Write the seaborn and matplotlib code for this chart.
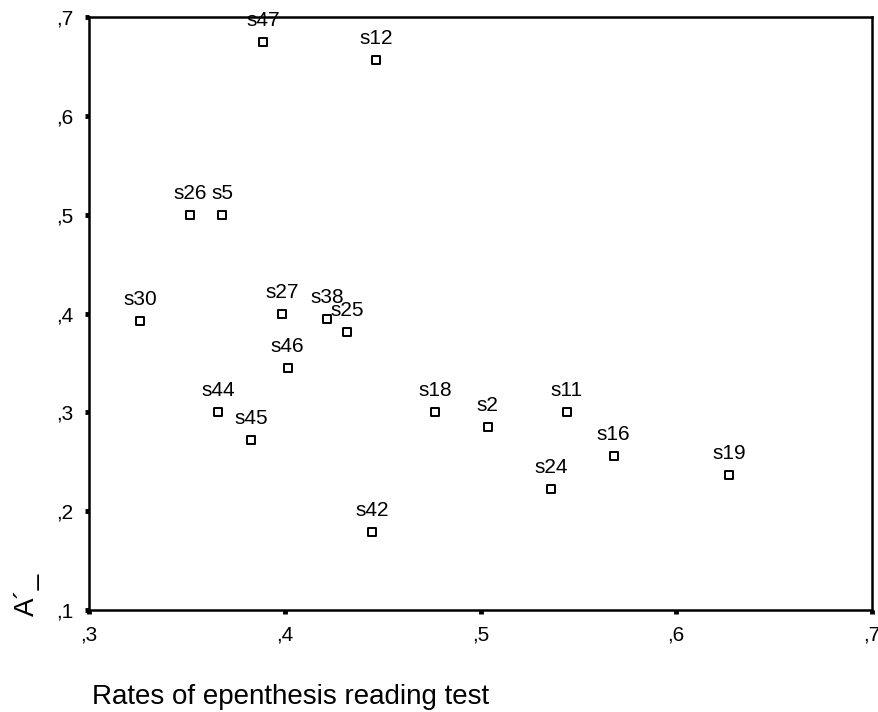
import matplotlib
matplotlib.use("Agg")
import matplotlib.pyplot as plt
import seaborn as sns
import pandas as pd

labels = ["s47", "s12", "s26", "s5", "s30", "s27", "s38", "s25", "s46", "s44",
          "s45", "s42", "s18", "s2", "s11", "s16", "s24", "s19"]
x_vals = [0.389, 0.4465, 0.3515, 0.368, 0.326, 0.3985, 0.4215, 0.432, 0.4015, 0.366,
          0.383, 0.4445, 0.477, 0.5036, 0.544, 0.568, 0.536, 0.627]
y_vals = [0.675, 0.657, 0.500, 0.500, 0.392, 0.400, 0.394, 0.381, 0.345, 0.300,
          0.272, 0.179, 0.300, 0.285, 0.300, 0.2556, 0.222, 0.2365]
x_ticks = [0.3, 0.4, 0.5, 0.6, 0.7]
x_tick_labels = [",3", ",4", ",5", ",6", ",7"]
y_ticks = [0.1, 0.2, 0.3, 0.4, 0.5, 0.6, 0.7]
y_tick_labels = [",1", ",2", ",3", ",4", ",5", ",6", ",7"]

df = pd.DataFrame({"x": x_vals, "y": y_vals, "label": labels})

sns.set_theme(style="white")
plt.rcParams["font.family"] = ["Liberation Sans", "DejaVu Sans"]

fig = plt.figure(figsize=(8.79, 7.12), dpi=100)
ax = fig.add_axes([0.1013, 0.1433, 0.8907, 0.8327])

sns.scatterplot(data=df, x="x", y="y", ax=ax, marker="s", s=36,
                facecolor="white", edgecolor="black", linewidth=1.4, legend=False)

for _, r in df.iterrows():
    ax.annotate(r["label"], (r["x"], r["y"]), xytext=(0, 11.5), textcoords="offset points",
                ha="center", va="baseline", fontsize=15, color="black")

ax.set_xlim(0.3, 0.7)
ax.set_ylim(0.1, 0.7)
ax.set_xticks(x_ticks)
ax.set_xticklabels(x_tick_labels, fontsize=15)
ax.set_yticks(y_ticks)
ax.set_yticklabels(y_tick_labels, fontsize=15)
ax.tick_params(axis="both", direction="out", length=3, width=3.5, color="black",
               bottom=True, left=True, pad=8, labelcolor="black")
for sp in ax.spines.values():
    sp.set_visible(True)
    sp.set_color("black")
    sp.set_linewidth(1.8)

ax.set_xlabel("")
ax.set_ylabel("")
fig.text(27 / 879, 1 - 594 / 712, "A´_", rotation=90, fontsize=20, color="black",
         ha="center", va="center")
fig.text(92 / 879, 1 - 697 / 712, "Rates of epenthesis reading test",
         fontsize=20, color="black", ha="left", va="center")

fig.savefig("out.png", dpi=100, facecolor="white")
